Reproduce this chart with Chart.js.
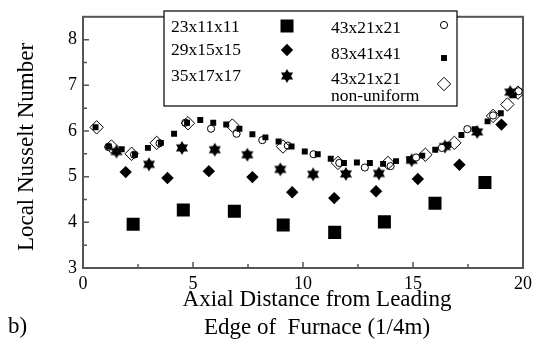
<!DOCTYPE html>
<html>
<head>
<meta charset="utf-8">
<script src="https://cdn.jsdelivr.net/npm/chart.js@4.4.1/dist/chart.umd.min.js"></script>
<style>
  html, body { margin: 0; padding: 0; background: #fff; }
  #wrap { width: 537px; height: 354px; }
</style>
</head>
<body>
<div id="wrap"><canvas id="nusseltChart" width="537" height="354"></canvas></div>
<script>
// grid resolutions (legend labels)
const gridNames = ['23x11x11', '29x15x15', '35x17x17', '43x21x21', '83x41x41', '43x21x21\nnon-uniform'];

// axial position (1/4 m) and local Nusselt number
const x23 = [2.28, 4.56, 6.88, 9.1, 11.44, 13.7, 16.0, 18.27];
const nu23 = [3.96, 4.27, 4.24, 3.94, 3.78, 4.01, 4.42, 4.87];

const x29 = [1.94, 3.84, 5.72, 7.7, 9.51, 11.42, 13.32, 15.22, 17.11, 19.02];
const nu29 = [5.1, 4.97, 5.12, 4.99, 4.66, 4.53, 4.68, 4.95, 5.26, 6.14];

const x35 = [1.52, 3.0, 4.5, 5.99, 7.47, 8.97, 10.46, 11.95, 13.45, 14.94, 16.45, 17.92, 19.42];
const nu35 = [5.55, 5.27, 5.63, 5.59, 5.48, 5.16, 5.05, 5.06, 5.07, 5.36, 5.66, 5.98, 6.85];

const x43 = [1.15, 2.32, 3.48, 4.65, 5.82, 6.98, 8.15, 9.31, 10.48, 11.65, 12.81, 13.98, 15.14, 16.31, 17.47, 18.64, 19.8];
const nu43 = [5.65, 5.48, 5.73, 6.18, 6.05, 5.94, 5.8, 5.68, 5.49, 5.3, 5.2, 5.23, 5.42, 5.63, 6.04, 6.34, 6.87];

const x83 = [0.57, 1.17, 1.76, 2.36, 2.95, 3.54, 4.14, 4.73, 5.33, 5.92, 6.51, 7.11, 7.7, 8.29, 8.89, 9.48,
             10.08, 10.67, 11.26, 11.86, 12.45, 13.04, 13.64, 14.23, 14.83, 15.42, 16.01, 16.61, 17.2, 17.8,
             18.39, 18.99, 19.58];
const nu83 = [6.08, 5.66, 5.6, 5.48, 5.63, 5.74, 5.94, 6.18, 6.24, 6.18, 6.14, 6.05, 5.93, 5.86, 5.77, 5.66,
              5.55, 5.49, 5.39, 5.3, 5.31, 5.3, 5.28, 5.34, 5.38, 5.46, 5.59, 5.7, 5.91, 6.04,
              6.21, 6.39, 6.78];

const xNonUni = [0.62, 1.29, 2.21, 3.35, 4.77, 6.79, 9.09, 11.59, 13.86, 15.56, 16.88, 18.64, 19.29, 19.77];
const nuNonUni = [6.08, 5.66, 5.5, 5.74, 6.17, 6.12, 5.66, 5.3, 5.3, 5.48, 5.74, 6.33, 6.58, 6.84];

const xTicks = [0, 5, 10, 15, 20];
const yTicks = [3, 4, 5, 6, 7, 8];

const serif = "'Liberation Serif', 'Times New Roman', serif";
Chart.defaults.font.family = serif;
Chart.defaults.color = '#000';

// six pointed star marker, Chart.js has none
function makeStar(r) {
    let c = document.createElement('canvas');
    let s = Math.ceil(r * 2 + 2);
    c.width = s; c.height = s;
    let g = c.getContext('2d');
    g.fillStyle = '#000';
    for (let t = 0; t < 2; t++) {
        g.beginPath();
        for (let k = 0; k < 3; k++) {
            let a = -Math.PI / 2 + t * Math.PI / 3 + k * 2 * Math.PI / 3;
            let px = s / 2 + r * Math.cos(a), py = s / 2 + r * Math.sin(a);
            if (k === 0) g.moveTo(px, py); else g.lineTo(px, py);
        }
        g.closePath();
        g.fill();
    }
    return c;
}
const starImg = makeStar(7);

function pts(xs, ys) {
    return xs.map((x, i) => ({ x: x, y: ys[i] }));
}

const markers = [
    { pointStyle: 'rect', radius: 9.2, bg: '#000', border: '#000', bw: 0 },
    { pointStyle: 'rectRot', radius: 6.2, bg: '#000', border: '#000', bw: 0 },
    { pointStyle: starImg, radius: 7, bg: '#000', border: '#000', bw: 0 },
    { pointStyle: 'circle', radius: 3.6, bg: '#fff', border: '#000', bw: 1 },
    { pointStyle: 'rect', radius: 4.2, bg: '#000', border: '#000', bw: 0 },
    { pointStyle: 'rectRot', radius: 6.7, bg: 'rgba(0,0,0,0)', border: '#000', bw: 1 }
];
const series = [pts(x23, nu23), pts(x29, nu29), pts(x35, nu35), pts(x43, nu43), pts(x83, nu83), pts(xNonUni, nuNonUni)];
const drawOrder = [5, 4, 3, 2, 1, 0];

function drawMarker(ctx, m, x, y) {
    ctx.save();
    ctx.fillStyle = m.bg;
    ctx.strokeStyle = m.border;
    ctx.lineWidth = m.bw;
    if (m.pointStyle instanceof HTMLCanvasElement) {
        ctx.drawImage(m.pointStyle, x - m.pointStyle.width / 2, y - m.pointStyle.height / 2);
    } else {
        ctx.beginPath();
        if (m.pointStyle === 'rect') {
            let h = m.radius * Math.SQRT1_2;
            ctx.rect(x - h, y - h, 2 * h, 2 * h);
        } else if (m.pointStyle === 'rectRot') {
            ctx.moveTo(x, y - m.radius); ctx.lineTo(x + m.radius, y);
            ctx.lineTo(x, y + m.radius); ctx.lineTo(x - m.radius, y);
            ctx.closePath();
        } else {
            ctx.arc(x, y, m.radius, 0, Math.PI * 2);
        }
        ctx.fill();
        if (m.bw) ctx.stroke();
    }
    ctx.restore();
}

const framePlugin = {
    id: 'frame',
    beforeDatasetsDraw(chart) {
        let ctx = chart.ctx, a = chart.chartArea;
        let xs = chart.scales.x, ys = chart.scales.y;
        ctx.save();
        ctx.strokeStyle = '#555';
        ctx.lineWidth = 2;
        ctx.strokeRect(a.left, a.top, a.right - a.left, a.bottom - a.top);
        ctx.lineWidth = 1.5;
        ctx.beginPath();
        for (let v = 2.5; v < 20; v += 2.5) {
            let px = xs.getPixelForValue(v);
            let len = (v % 5 === 0) ? 6 : 4;
            ctx.moveTo(px, a.bottom); ctx.lineTo(px, a.bottom - len);
        }
        for (let v = 3.5; v < 8.5; v += 0.5) {
            let py = ys.getPixelForValue(v);
            let len = (v % 1 === 0) ? 6 : 4;
            ctx.moveTo(a.left, py); ctx.lineTo(a.left + len, py);
        }
        ctx.stroke();

        // axis titles
        ctx.fillStyle = '#000';
        ctx.font = '23px ' + serif;
        ctx.textAlign = 'center';
        ctx.textBaseline = 'alphabetic';
        ctx.fillText('Axial Distance from Leading', 317, 306);
        ctx.fillText('Edge of  Furnace (1/4m)', 317, 334);
        ctx.textAlign = 'left';
        ctx.fillText('b)', 8, 333);
        ctx.translate(33, 147);
        ctx.rotate(-Math.PI / 2);
        ctx.textAlign = 'center';
        ctx.fillText('Local Nusselt Number', 0, 0);
        ctx.restore();
    },
    afterDatasetsDraw(chart) {
        let ctx = chart.ctx;
        ctx.save();
        ctx.fillStyle = '#fff';
        ctx.fillRect(164, 11, 293, 95);
        ctx.strokeStyle = '#000';
        ctx.lineWidth = 1.2;
        ctx.strokeRect(164, 11, 293, 95);
        ctx.fillStyle = '#000';
        ctx.font = '17.5px ' + serif;
        ctx.textAlign = 'left';
        ctx.textBaseline = 'alphabetic';
        // column 1
        let rows1 = [32, 55, 81], mk1 = [26, 50, 76];
        for (let i = 0; i < 3; i++) {
            ctx.fillText(gridNames[i], 171, rows1[i]);
            drawMarker(ctx, markers[i], 287, mk1[i]);
        }
        // column 2
        let rows2 = [32.5, 58.5, 84], mk2 = [25, 58, 84];
        for (let i = 3; i < 6; i++) {
            let lines = gridNames[i].split('\n');
            ctx.fillText(lines[0], 331, rows2[i - 3]);
            if (lines[1]) ctx.fillText(lines[1], 331, 101);
            drawMarker(ctx, markers[i], 444, mk2[i - 3]);
        }
        ctx.restore();
    }
};

let ctx = document.getElementById('nusseltChart').getContext('2d');

let nusseltChart = new Chart(ctx, {
    type: 'scatter',
    data: {
        datasets: series.map((d, i) => ({
            label: gridNames[i],
            data: d,
            order: drawOrder[i],
            pointStyle: markers[i].pointStyle,
            pointRadius: markers[i].radius,
            pointBackgroundColor: markers[i].bg,
            pointBorderColor: markers[i].border,
            pointBorderWidth: markers[i].bw,
            showLine: false
        }))
    },
    options: {
        responsive: false,
        animation: false,
        layout: { padding: { top: 11, right: 14, left: 0, bottom: 0 } },
        plugins: { legend: { display: false }, tooltip: { enabled: false } },
        scales: {
            x: {
                type: 'linear',
                min: 0, max: 20,
                afterFit: s => { s.height = 86; },
                afterBuildTicks: s => { s.ticks = xTicks.map(v => ({ value: v })); },
                grid: { display: false, drawTicks: false },
                border: { display: false },
                ticks: { font: { size: 18, family: serif }, color: '#000', padding: 5, maxRotation: 0 }
            },
            y: {
                type: 'linear',
                min: 3, max: 8.5,
                afterFit: s => { s.width = 83; },
                afterBuildTicks: s => { s.ticks = yTicks.map(v => ({ value: v })); },
                grid: { display: false, drawTicks: false },
                border: { display: false },
                ticks: { font: { size: 18, family: serif }, color: '#000', padding: 6 }
            }
        }
    },
    plugins: [framePlugin]
});
</script>
</body>
</html>
